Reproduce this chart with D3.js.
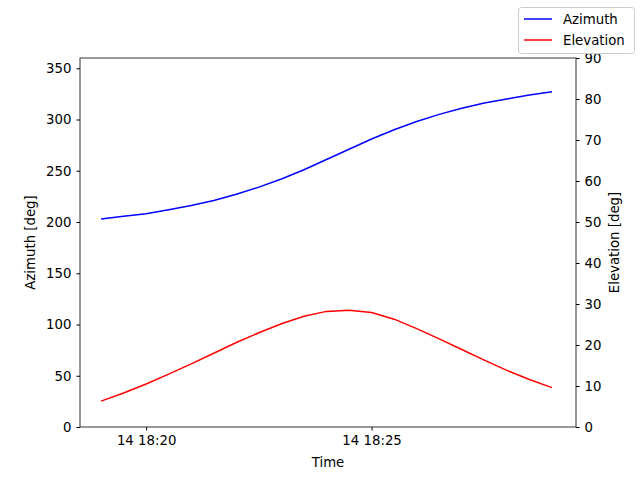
<!DOCTYPE html>
<html><head><meta charset="utf-8">
<script src="https://cdn.jsdelivr.net/npm/d3@7"></script>
<style>body{margin:0;background:#fff}text{font-family:"DejaVu Sans",sans-serif}</style>
</head><body>
<svg id="c" width="640" height="480"></svg>
<script>
const times = ["18:19:00","18:19:30","18:20:00","18:20:30","18:21:00","18:21:30","18:22:00","18:22:30","18:23:00","18:23:30","18:24:00","18:24:30","18:25:00","18:25:30","18:26:00","18:26:30","18:27:00","18:27:30","18:28:00","18:28:30","18:29:00"];
const azimuth = [203,205.5,208,212,216,221,227,234,242,251,261,271,281,290,298,305,311,316,320,324,327];
const elevation = [6.3,8.3,10.5,12.9,15.4,18.0,20.6,23.0,25.2,27.0,28.2,28.5,27.9,26.3,24.0,21.5,18.9,16.3,13.8,11.6,9.6];
const xTicks = ["18:20:00","18:25:00"];
const xTickLabels = ["14 18:20","14 18:25"];
const azTicks = [0,50,100,150,200,250,300,350];
const elTicks = [0,10,20,30,40,50,60,70,80,90];

const parse = s => new Date("2024-01-14T"+s);
const svg = d3.select("#c");
const L=80,R=576,T=58,B=427;
const x = d3.scaleTime().domain([parse("18:18:32"),parse("18:29:32")]).range([L,R]);
const yA = d3.scaleLinear().domain([0,360]).range([B,T]);
const yE = d3.scaleLinear().domain([0,90]).range([B,T]);
const fs = "13.3px";

const gx = svg.append("g").attr("transform",`translate(0,${B})`)
 .call(d3.axisBottom(x).tickValues(xTicks.map(parse)).tickFormat((d,i)=>xTickLabels[i]).tickSizeOuter(0).tickSize(3.5).tickPadding(5));
const gl = svg.append("g").attr("transform",`translate(${L},0)`)
 .call(d3.axisLeft(yA).tickValues(azTicks).tickSizeOuter(0).tickSize(3.5).tickPadding(5));
const gr = svg.append("g").attr("transform",`translate(${R},0)`)
 .call(d3.axisRight(yE).tickValues(elTicks).tickSizeOuter(0).tickSize(3.5).tickPadding(5));
[gx,gl,gr].forEach(g=>{g.selectAll("text").style("font-size",fs).attr("fill","#000");g.select(".domain").remove();g.selectAll("line").attr("stroke","#000");});
svg.append("rect").attr("x",L).attr("y",T).attr("width",R-L).attr("height",B-T).attr("fill","none").attr("stroke","#000").attr("stroke-width",0.8);

const la = d3.line().x((d,i)=>x(parse(times[i]))).y(d=>yA(d));
const le = d3.line().x((d,i)=>x(parse(times[i]))).y(d=>yE(d));
svg.append("path").attr("d",la(azimuth)).attr("fill","none").attr("stroke","blue").attr("stroke-width",1.5);
svg.append("path").attr("d",le(elevation)).attr("fill","none").attr("stroke","red").attr("stroke-width",1.5);

svg.append("text").attr("x",(L+R)/2).attr("y",467).attr("text-anchor","middle").style("font-size",fs).text("Time");
svg.append("text").attr("transform",`translate(35,${(T+B)/2}) rotate(-90)`).attr("text-anchor","middle").style("font-size",fs).text("Azimuth [deg]");
svg.append("text").attr("transform",`translate(619,${(T+B)/2}) rotate(-90)`).attr("text-anchor","middle").style("font-size",fs).text("Elevation [deg]");

const lg = svg.append("g");
lg.append("rect").attr("x",518.5).attr("y",7.5).attr("width",116).attr("height",46).attr("rx",3).attr("fill","#fff").attr("stroke","#ccc");
[["Azimuth","blue"],["Elevation","red"]].forEach(([n,c],i)=>{
 const yy=19+i*21;
 lg.append("line").attr("x1",524).attr("x2",552).attr("y1",yy).attr("y2",yy).attr("stroke",c).attr("stroke-width",1.5);
 lg.append("text").attr("x",563).attr("y",yy+5).style("font-size",fs).text(n);
});
</script></body></html>
